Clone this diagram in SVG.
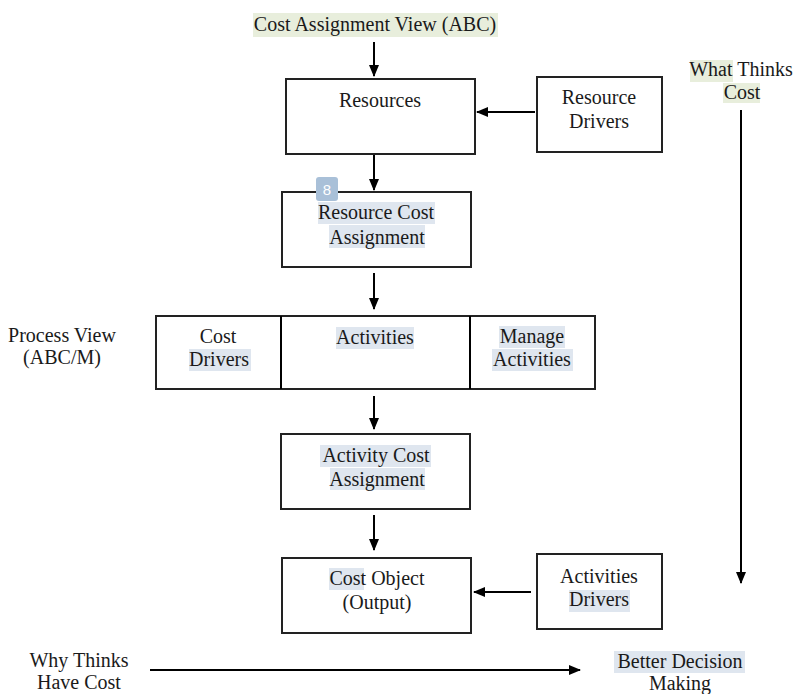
<svg xmlns="http://www.w3.org/2000/svg" width="795" height="694" viewBox="0 0 795 694">
<defs>
<style>
text{font-family:'Liberation Serif','Times New Roman',serif;font-size:20px;fill:#1a1a1a;text-anchor:middle}
.box{fill:#fff;stroke:#222;stroke-width:2}
.ln{stroke:#000;stroke-width:2;fill:none}
.hg{fill:#e8eedc}
.hb{fill:#dfe6ef}
</style>
<marker id="ah" viewBox="0 0 12 10" refX="11" refY="5" markerWidth="12" markerHeight="10" markerUnits="userSpaceOnUse" orient="auto">
<path d="M0,0 L12,5 L0,10 Z" fill="#000"/>
</marker>
</defs>
<rect width="795" height="694" fill="#fff"/>

<g id="connectors">
<line class="ln" x1="374" y1="42" x2="374" y2="76" marker-end="url(#ah)"/>
<line class="ln" x1="535" y1="112" x2="477" y2="112" marker-end="url(#ah)"/>
<line class="ln" x1="374" y1="154" x2="374" y2="190" marker-end="url(#ah)"/>
<line class="ln" x1="374" y1="273" x2="374" y2="309" marker-end="url(#ah)"/>
<line class="ln" x1="437" y1="351" x2="488" y2="351" marker-end="url(#ah)"/>
<line class="ln" x1="374" y1="396" x2="374" y2="429" marker-end="url(#ah)"/>
<line class="ln" x1="374" y1="515" x2="374" y2="550" marker-end="url(#ah)"/>
<line class="ln" x1="531" y1="592" x2="474" y2="592" marker-end="url(#ah)"/>
<line class="ln" x1="741" y1="110" x2="741" y2="583" marker-end="url(#ah)"/>
<line class="ln" x1="150" y1="670" x2="580" y2="670" marker-end="url(#ah)"/>
</g>

<g id="title">
<rect class="hg" x="253" y="13" width="245" height="24"/>
<text x="375" y="31">Cost Assignment View (ABC)</text>
</g>

<g id="resources">
<rect class="box" x="286" y="79" width="189" height="75"/>
<text x="380" y="107">Resources</text>
</g>

<g id="resource-drivers">
<rect class="box" x="537" y="77" width="125" height="75"/>
<text x="599" y="104">Resource</text>
<text x="599" y="128">Drivers</text>
</g>

<g id="resource-cost-assignment">
<rect class="box" x="282" y="192" width="189" height="75"/>
<rect class="hb" x="318" y="202" width="117" height="22"/>
<rect class="hb" x="329" y="225" width="96" height="23"/>
<text x="376" y="219">Resource Cost</text>
<text x="377" y="244">Assignment</text>
</g>

<g id="badge">
<rect x="316" y="177" width="22" height="24" rx="3" fill="#a9c0d8"/>
<text x="327" y="195" style="font-family:'Liberation Sans',Arial,sans-serif;font-size:15px;fill:#fff">8</text>
</g>

<g id="process-row">
<rect class="box" x="156" y="316" width="439" height="73"/>
<line class="ln" x1="281" y1="316" x2="281" y2="389"/>
<line class="ln" x1="470" y1="316" x2="470" y2="389"/>
</g>

<g id="cost-drivers">
<rect class="hb" x="189" y="349" width="62" height="22"/>
<text x="218" y="343">Cost</text>
<text x="219" y="366">Drivers</text>
</g>

<g id="activities">
<rect class="hb" x="336" y="327" width="78" height="22"/>
<text x="375" y="344">Activities</text>
</g>

<g id="manage-activities">
<rect class="hb" x="499" y="326" width="66" height="22"/>
<rect class="hb" x="492" y="349" width="81" height="22"/>
<text x="532" y="343">Manage</text>
<text x="532" y="366">Activities</text>
</g>

<g id="process-view">
<text x="62" y="342">Process View</text>
<text x="62" y="364">(ABC/M)</text>
</g>

<g id="activity-cost-assignment">
<rect class="box" x="281" y="434" width="189" height="75"/>
<rect class="hb" x="320" y="445" width="111" height="22"/>
<rect class="hb" x="330" y="468" width="95" height="22"/>
<text x="376" y="462">Activity Cost</text>
<text x="377" y="486">Assignment</text>
</g>

<g id="cost-object">
<rect class="box" x="282" y="558" width="189" height="75"/>
<rect class="hb" x="329" y="568" width="35" height="22"/>
<text x="377" y="585">Cost Object</text>
<text x="377" y="609">(Output)</text>
</g>

<g id="activities-drivers">
<rect class="box" x="537" y="554" width="125" height="75"/>
<rect class="hb" x="569" y="590" width="61" height="22"/>
<text x="599" y="583">Activities</text>
<text x="599" y="606">Drivers</text>
</g>

<g id="what-thinks-cost">
<rect class="hg" x="690" y="60" width="43" height="22"/>
<rect class="hg" x="723" y="83" width="37" height="20"/>
<text x="741" y="76">What Thinks</text>
<text x="742" y="99">Cost</text>
</g>

<g id="why-thinks">
<text x="79" y="667">Why Thinks</text>
<text x="79" y="689">Have Cost</text>
</g>

<g id="better-decision">
<rect class="hb" x="614" y="651" width="131" height="22"/>
<text x="680" y="668">Better Decision</text>
<text x="680" y="690">Making</text>
</g>
</svg>
